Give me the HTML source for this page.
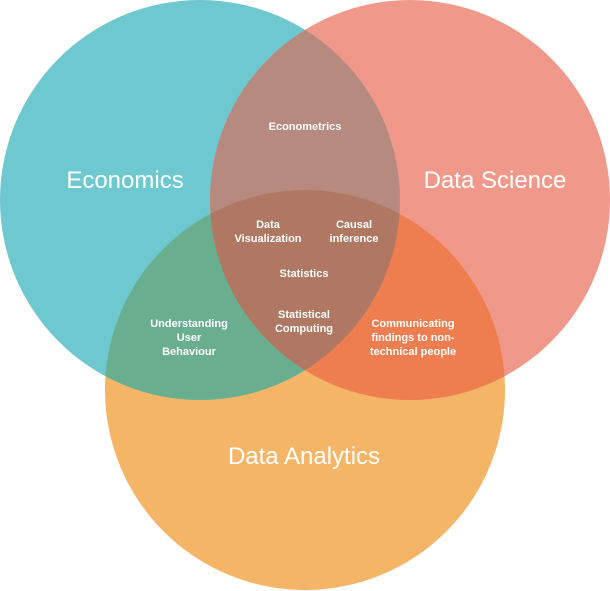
<!DOCTYPE html>
<html><head><meta charset="utf-8"><style>
html,body{margin:0;padding:0;background:#fff;}
svg{display:block;}
text{font-family:"Liberation Sans",Arial,sans-serif;fill:#fff;text-anchor:middle;}
</style></head><body>
<svg width="610" height="591" viewBox="0 0 610 591">
<defs>
<clipPath id="cE"><circle cx="200" cy="200" r="200"/></clipPath>
<clipPath id="cS"><circle cx="410" cy="200" r="200"/></clipPath>
<clipPath id="cA"><circle cx="305" cy="390" r="200"/></clipPath>
</defs>
<circle cx="305" cy="390" r="200" fill="#f5b567"/>
<circle cx="200" cy="200" r="200" fill="#6dc8cf"/>
<circle cx="410" cy="200" r="200" fill="#f0998b"/>
<g clip-path="url(#cE)"><circle cx="410" cy="200" r="200" fill="#b78a80"/></g>
<g clip-path="url(#cE)"><circle cx="305" cy="390" r="200" fill="#6aae90"/></g>
<g clip-path="url(#cS)"><circle cx="305" cy="390" r="200" fill="#ee7d50"/></g>
<g clip-path="url(#cE)"><g clip-path="url(#cS)"><circle cx="305" cy="390" r="200" fill="#b07862"/></g></g>
<text x="125" y="188" font-size="24">Economics</text>
<text x="495" y="188" font-size="24">Data Science</text>
<text x="304" y="464" font-size="24">Data Analytics</text>
<g font-size="11" font-weight="bold">
<text x="305" y="130">Econometrics</text>
<text x="268" y="228">Data</text>
<text x="268" y="242">Visualization</text>
<text x="354" y="228">Causal</text>
<text x="354" y="242">inference</text>
<text x="304" y="277">Statistics</text>
<text x="304" y="318">Statistical</text>
<text x="304" y="332">Computing</text>
<text x="189" y="327">Understanding</text>
<text x="189" y="341">User</text>
<text x="189" y="355">Behaviour</text>
<text x="413" y="327">Communicating</text>
<text x="413" y="341">findings to non-</text>
<text x="413" y="355">technical people</text>
</g>
</svg>
</body></html>
